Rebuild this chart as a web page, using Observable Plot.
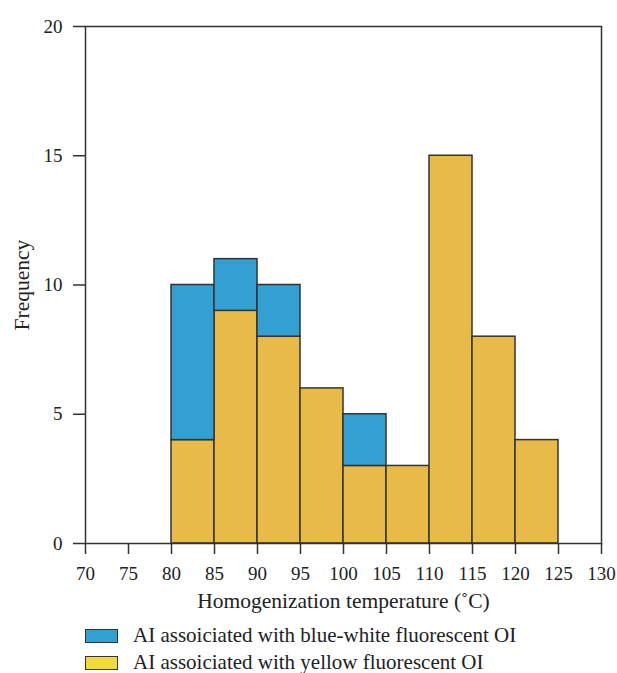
<!DOCTYPE html>
<html><head><meta charset="utf-8">
<script src="https://cdn.jsdelivr.net/npm/d3@7"></script>
<script src="https://cdn.jsdelivr.net/npm/@observablehq/plot@0.6"></script>
<style>
body{margin:0;background:#fff;font-family:"Liberation Serif",serif;}
#legend{position:relative;margin-left:85px;margin-top:2px;font-size:21px;color:#222;}
.item{display:flex;align-items:center;height:27px;}
.sw{width:33px;height:14px;border:1.5px solid #333;margin-right:15px;box-sizing:border-box;flex:none;}
</style></head>
<body>
<div id="chart"></div>
<div id="legend"></div>
<script>
const binStart = [80, 85, 90, 95, 100, 105, 110, 115, 120];
const binWidth = 5;
const yellowCounts = [4, 9, 8, 6, 3, 3, 15, 8, 4];
const blueCounts = [6, 2, 2, 0, 2, 0, 0, 0, 0];
const xTicks = [70, 75, 80, 85, 90, 95, 100, 105, 110, 115, 120, 125, 130];
const yTicks = [0, 5, 10, 15, 20];
const seriesNames = ["AI assoiciated with blue-white fluorescent OI", "AI assoiciated with yellow fluorescent OI"];

const yellowRows = binStart.map((s, i) => ({x1: s, x2: s + binWidth, y1: 0, y2: yellowCounts[i]}));
const blueRows = binStart.map((s, i) => ({x1: s, x2: s + binWidth, y1: yellowCounts[i], y2: yellowCounts[i] + blueCounts[i]})).filter(d => d.y2 > d.y1);

const ink = "#333";
const plot = Plot.plot({
  width: 617, height: 620,
  marginLeft: 85, marginTop: 26, marginRight: 16, marginBottom: 77,
  style: {fontFamily: "Liberation Serif, serif", color: "#222", background: "#fff"},
  x: {domain: [70, 130]},
  y: {domain: [0, 20]},
  marks: [
    Plot.rect(yellowRows, {x1: "x1", x2: "x2", y1: "y1", y2: "y2", fill: "#e8bb48", stroke: ink, strokeWidth: 1.5}),
    Plot.rect(blueRows, {x1: "x1", x2: "x2", y1: "y1", y2: "y2", fill: "#33a0d4", stroke: ink, strokeWidth: 1.5}),
    Plot.frame({stroke: ink, strokeWidth: 1.5}),
    Plot.axisX({ticks: xTicks, tickSize: 11, tickPadding: 12, fontSize: 19, stroke: ink, strokeWidth: 1.5, strokeOpacity: 1,
      label: "Homogenization temperature (˚C)", labelAnchor: "center", labelArrow: "none", labelOffset: 64}),
    Plot.axisY({ticks: yTicks, tickSize: 12, tickPadding: 11, fontSize: 19, stroke: ink, strokeWidth: 1.5, strokeOpacity: 1,
      label: "Frequency", labelAnchor: "center", labelArrow: "none", labelOffset: 72})
  ]
});
plot.querySelectorAll("[aria-label='x-axis label'], [aria-label='y-axis label']").forEach(e => e.setAttribute("font-size", "21.5"));
document.getElementById("chart").appendChild(plot);

const legendColors = ["#33a0d4", "#f2da3c"];
const lg = document.getElementById("legend");
seriesNames.forEach((n, i) => {
  const it = document.createElement("div"); it.className = "item";
  const sw = document.createElement("div"); sw.className = "sw"; sw.style.background = legendColors[i];
  const t = document.createElement("span"); t.textContent = n;
  it.appendChild(sw); it.appendChild(t); lg.appendChild(it);
});
</script>
</body></html>
